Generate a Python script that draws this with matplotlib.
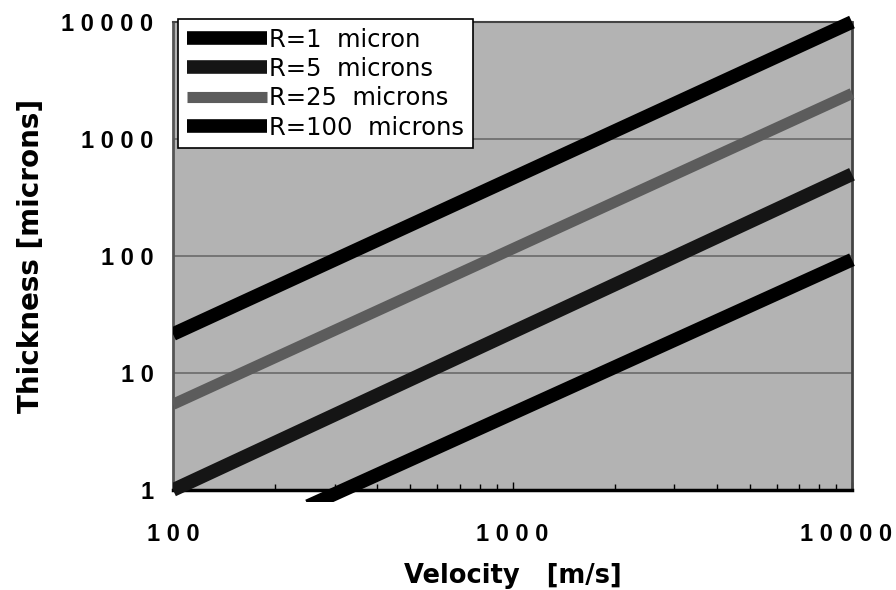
import matplotlib
matplotlib.use('Agg')
import matplotlib.pyplot as plt
from matplotlib.patches import Rectangle
from matplotlib.transforms import ScaledTranslation

# values (log-log, straight lines)
labels = ['R=1  micron', 'R=5  microns', 'R=25  microns', 'R=100  microns']
vel_r1 = [250, 10000]
thk_r1 = [0.73, 93]
vel_r5 = [100, 10000]
thk_r5 = [1.0, 500]
vel_r25 = [100, 10000]
thk_r25 = [5.4, 2450]
vel_r100 = [100, 10000]
thk_r100 = [21.5, 10000]

colors = ['black', '#151515', '#5c5c5c', 'black']
widths = [9.8, 9.8, 8.0, 9.8]

xticks = [100, 1000, 10000]
yticks = [1, 10, 100, 1000, 10000]
xticklabels = ['1 0 0', '1 0 0 0', '1 0 0 0 0']
yticklabels = ['1', '1 0', '1 0 0', '1 0 0 0', '1 0 0 0 0']

plt.rcParams['font.family'] = ['Liberation Sans', 'DejaVu Sans']

fig = plt.figure(figsize=(8.96, 5.9), dpi=100)
ax = fig.add_axes([173/896, 1-490/590, (852-173)/896, (490-22)/590])
ax.set_facecolor('#b3b3b3')
ax.set_xscale('log')
ax.set_yscale('log')
ax.set_xlim(100, 10000)
ax.set_ylim(1, 10000)

for yt in yticks[1:-1]:
    ax.axhline(yt, color='#6a6a6a', lw=1.2, zorder=1)

clip = Rectangle((0, -0.026), 1.012, 1.05, transform=ax.transAxes,
                 facecolor='none', edgecolor='none')
ax.add_patch(clip)

series = [(vel_r1, thk_r1), (vel_r5, thk_r5), (vel_r25, thk_r25), (vel_r100, thk_r100)]
for (xs, ys), lab, c, w in zip(series, labels, colors, widths):
    ln, = ax.plot(xs, ys, color=c, lw=w, label=lab, solid_capstyle='butt', zorder=3)
    ln.set_clip_path(clip)

ax.set_xticks(xticks)
ax.set_xticklabels(xticklabels)
ax.set_yticks(yticks)
ax.set_yticklabels(yticklabels)
ax.minorticks_on()
ax.tick_params(axis='x', which='major', direction='in', length=6, width=1, pad=24,
               labelsize=17)
ax.tick_params(axis='x', which='minor', direction='in', length=4, width=1)
ax.tick_params(axis='y', which='both', length=0, pad=14, labelsize=17)
ax.tick_params(axis='y', which='minor', left=False)
for t in ax.get_xticklabels() + ax.get_yticklabels():
    t.set_fontweight('bold')
# keep the last x label inside the figure
last = ax.get_xticklabels()[-1]
last.set_transform(last.get_transform() + ScaledTranslation(-6/100, 0, fig.dpi_scale_trans))

ax.spines['bottom'].set_linewidth(2.5)
ax.spines['bottom'].set_color('black')
ax.spines['left'].set_linewidth(2)
ax.spines['left'].set_color('#555555')
ax.spines['top'].set_linewidth(1.5)
ax.spines['top'].set_color('#444444')
ax.spines['right'].set_linewidth(2)
ax.spines['right'].set_color('#444444')

ax.set_xlabel('Velocity   [m/s]', fontsize=18.5, fontweight='bold', labelpad=12,
              family='DejaVu Sans')
ax.set_ylabel('Thickness [microns]', fontsize=20, fontweight='bold', labelpad=12,
              family='DejaVu Sans')

leg = ax.legend(loc='upper left', bbox_to_anchor=(178/896, 1-19/590),
                bbox_transform=fig.transFigure, prop={'family': 'DejaVu Sans', 'size': 17.5},
                frameon=True, fancybox=False, edgecolor='black', framealpha=1,
                handlelength=3.3, handletextpad=0.1, labelspacing=0.22,
                borderpad=0.35, borderaxespad=0)
leg.get_frame().set_linewidth(1.2)
leg.set_zorder(5)

plt.savefig('out.png', dpi=100)
